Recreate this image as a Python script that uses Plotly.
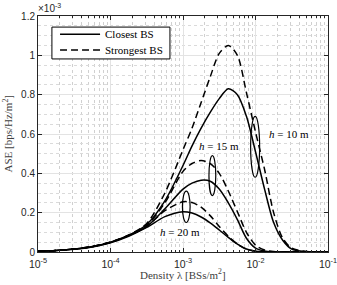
import plotly.graph_objects as go

# log10 of density (BSs/m^2)
density_exp = [-5, -4.75, -4.5, -4.25, -4, -3.75, -3.5, -3.25, -3, -2.875, -2.75,
               -2.625, -2.5, -2.375, -2.25, -2.125, -2, -1.875, -1.75, -1.625,
               -1.5, -1.25, -1]
density = [10 ** e for e in density_exp]

# ASE in units of 1e-3 bps/Hz/m^2
closest_h10 = [0.004, 0.008, 0.015, 0.028, 0.05, 0.085, 0.14, 0.26, 0.44, 0.54, 0.63,
               0.71, 0.78, 0.83, 0.80, 0.69, 0.51, 0.32, 0.15, 0.06, 0.015, 0.0005, 0]
strongest_h10 = [0.004, 0.008, 0.015, 0.028, 0.05, 0.086, 0.145, 0.30, 0.52, 0.63, 0.76,
                 0.89, 1.01, 1.05, 1.00, 0.81, 0.61, 0.42, 0.20, 0.07, 0.02, 0.001, 0]
closest_h15 = [0.004, 0.008, 0.015, 0.027, 0.049, 0.083, 0.13, 0.22, 0.32, 0.35, 0.365,
               0.36, 0.32, 0.25, 0.165, 0.07, 0.02, 0.005, 0.001, 0, 0, 0, 0]
strongest_h15 = [0.004, 0.008, 0.015, 0.028, 0.05, 0.085, 0.135, 0.25, 0.41, 0.45, 0.465,
                 0.45, 0.40, 0.31, 0.205, 0.10, 0.035, 0.01, 0.002, 0, 0, 0, 0]
closest_h20 = [0.004, 0.008, 0.014, 0.026, 0.047, 0.08, 0.125, 0.18, 0.205, 0.198, 0.178,
               0.148, 0.112, 0.074, 0.04, 0.015, 0.004, 0.001, 0, 0, 0, 0, 0]
strongest_h20 = [0.004, 0.008, 0.015, 0.027, 0.049, 0.083, 0.13, 0.21, 0.255, 0.252, 0.228,
                 0.185, 0.13, 0.08, 0.04, 0.014, 0.004, 0.001, 0, 0, 0, 0, 0]

x_tickvals = [1e-5, 1e-4, 1e-3, 1e-2, 1e-1]
x_ticktext = ["10<sup>-5</sup>", "10<sup>-4</sup>", "10<sup>-3</sup>",
              "10<sup>-2</sup>", "10<sup>-1</sup>"]
legend_names = ["Closest BS", "Strongest BS"]
height_labels = ["<i>h</i> = 10 m", "<i>h</i> = 15 m", "<i>h</i> = 20 m"]
x_title = "Density λ [BSs/m<sup>2</sup>]"
y_title = "ASE [bps/Hz/m<sup>2</sup>]"

DASH = "7px,4px"
fig = go.Figure()
series = [
    (closest_h10, "solid", legend_names[0]),
    (strongest_h10, DASH, legend_names[1]),
    (closest_h15, "solid", legend_names[0]),
    (strongest_h15, DASH, legend_names[1]),
    (closest_h20, "solid", legend_names[0]),
    (strongest_h20, DASH, legend_names[1]),
]
for vals, dash, name in series:
    fig.add_trace(go.Scatter(
        x=density, y=vals, mode="lines", name=name, showlegend=False,
        line=dict(color="black", width=1.5, dash=dash, shape="spline", smoothing=0.8),
    ))

axis_font = dict(family="Liberation Sans, Arial, sans-serif", size=10, color="#262626")
xtick_font = dict(family="Liberation Sans, Arial, sans-serif", size=10.5, color="#262626")
serif = "Liberation Serif, Times New Roman, serif"

fig.update_xaxes(
    type="log", range=[-5, -1], tickvals=x_tickvals, ticktext=x_ticktext,
    showline=True, linecolor="#262626", linewidth=1, mirror="ticks",
    ticks="inside", ticklen=4, tickcolor="#262626", tickfont=xtick_font,
    ticklabeloverflow="allow", automargin=False, ticklabelstandoff=2,
    showgrid=True, gridcolor="#e3e3e3", gridwidth=1, zeroline=False,
    minor=dict(ticks="inside", ticklen=2, tickcolor="#262626", showgrid=True,
               gridcolor="#d0d0d0", griddash="dot", gridwidth=1, dtick="D1"),
)
fig.update_yaxes(
    range=[0, 1.2], dtick=0.2, automargin=False, ticklabeloverflow="allow",
    showline=True, linecolor="#262626", linewidth=1, mirror="ticks",
    ticks="inside", ticklen=4, tickcolor="#262626", tickfont=axis_font,
    showgrid=True, gridcolor="#e3e3e3", gridwidth=1, zeroline=False,
    minor=dict(dtick=0.05, showgrid=True, gridcolor="#dadada", griddash="dot", gridwidth=1),
)

# axis titles
fig.add_annotation(x=0.5, y=-0.093, xref="paper", yref="paper", xanchor="center",
                   yanchor="middle", text=x_title, showarrow=False,
                   font=dict(family=serif, size=11, color="#404040"))
fig.add_annotation(x=-0.105, y=0.5, xref="paper", yref="paper", xanchor="center",
                   yanchor="middle", text=y_title, showarrow=False, textangle=-90,
                   font=dict(family=serif, size=11, color="#404040"))

# ellipses grouping curve pairs
ellipses = [
    (10 ** -2.067, 10 ** -1.943, 0.38, 0.69),
    (10 ** -2.642, 10 ** -2.548, 0.287, 0.49),
    (10 ** -3.008, 10 ** -2.902, 0.15, 0.31),
]
for x0, x1, y0, y1 in ellipses:
    fig.add_shape(type="circle", xref="x", yref="y", x0=x0, x1=x1, y0=y0, y1=y1,
                  line=dict(color="black", width=1.2))

label_pos = [(-1.542, 0.60), (-2.50, 0.54), (-3.036, 0.10)]
for text, (lx, ly) in zip(height_labels, label_pos):
    fig.add_annotation(x=lx, y=ly, xref="x", yref="y", text=text, showarrow=False,
                       font=dict(family=serif, size=11, color="black"),
                       bgcolor="white", borderpad=0)

fig.add_annotation(x=0, y=1, xref="paper", yref="paper", xanchor="left", yanchor="bottom",
                   text="×10<sup>-3</sup>", showarrow=False, xshift=-2,
                   font=axis_font)

# legend box (paper coordinates of the plot area)
fig.add_shape(type="rect", xref="paper", yref="paper", x0=0.048, x1=0.455, y0=0.818, y1=0.953,
              line=dict(color="black", width=1), fillcolor="white", layer="above")
legend_rows = [(0.9225, "solid"), (0.856, DASH)]
for name, (ry, dash) in zip(legend_names, legend_rows):
    fig.add_shape(type="line", xref="paper", yref="paper", x0=0.076, x1=0.214, y0=ry, y1=ry,
                  line=dict(color="black", width=1.5, dash=dash), layer="above")
    fig.add_annotation(x=0.224, y=ry, xref="paper", yref="paper", xanchor="left",
                       yanchor="middle", text=name, showarrow=False,
                       font=dict(family=serif, size=11, color="black"))

fig.update_layout(
    width=337, height=285,
    margin=dict(l=38, r=9, t=16, b=33),
    paper_bgcolor="white", plot_bgcolor="white",
    showlegend=False,
)

fig.write_html("out.html", config={"displayModeBar": False},
               post_script="document.body.style.margin='0px';")
